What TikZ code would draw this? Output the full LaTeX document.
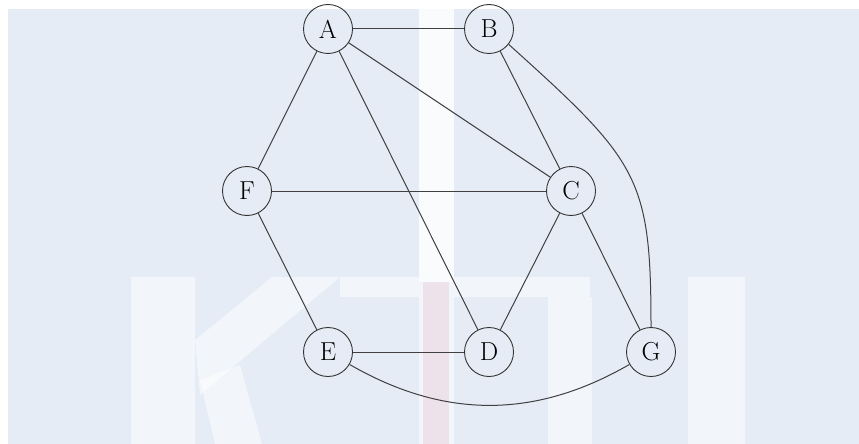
\documentclass[tikz,border=0pt]{standalone}
\begin{document}
\begin{tikzpicture}[x=1pt,y=1pt,
  vtx/.style={circle,draw=black!80,line width=0.9pt,minimum size=49pt,inner sep=0pt,font=\fontsize{26}{26}\selectfont},
  edge/.style={draw=black!75,line width=1pt},
  wm/.style={fill=white,draw=none,opacity=0.5}]
\definecolor{bg}{RGB}{229,236,245}
\definecolor{wmpink}{RGB}{238,226,234}
\fill[bg] (0,0) rectangle (859,-444);
\useasboundingbox (0,0) rectangle (859,-444);
% watermark
\fill[white] (0,0) rectangle (859,-9);
\fill[white] (0,0) rectangle (8,-444);
\fill[white,opacity=0.8] (419,-9) rectangle (454,-282);
\fill[wm] (419,-282) rectangle (454,-444);
\fill[wmpink] (423,-282) rectangle (449,-444);
\fill[wm] (131,-277) rectangle (195,-444);
\fill[wm] (272,-277) -- (340,-277) -- (200,-395) -- (195,-340) -- cycle;
\fill[wm] (200,-380) -- (240,-365) -- (262,-444) -- (215,-444) -- cycle;
\fill[wm] (340,-277) rectangle (419,-297);
\fill[wm] (454,-277) rectangle (590,-297);
\fill[wm] (548,-297) rectangle (592,-444);
\fill[wm] (688,-277) rectangle (745,-444);
% nodes
\node[vtx] (A) at (328,-29) {A};
\node[vtx] (B) at (489,-29) {B};
\node[vtx] (F) at (247,-191) {F};
\node[vtx] (C) at (571,-191) {C};
\node[vtx] (E) at (328,-352) {E};
\node[vtx] (D) at (489,-352) {D};
\node[vtx] (G) at (651,-352) {G};
% edges
\draw[edge] (A) -- (B);
\draw[edge] (A) -- (F);
\draw[edge] (A) -- (C);
\draw[edge] (A) -- (D);
\draw[edge] (B) -- (C);
\draw[edge] (F) -- (C);
\draw[edge] (F) -- (E);
\draw[edge] (C) -- (D);
\draw[edge] (C) -- (G);
\draw[edge] (E) -- (D);
\draw[edge] (B.-38) .. controls +(-42:175) and +(90:150) .. (G.north);
\draw[edge] (E) to[out=-30,in=-150] (G);
\end{tikzpicture}
\end{document}
